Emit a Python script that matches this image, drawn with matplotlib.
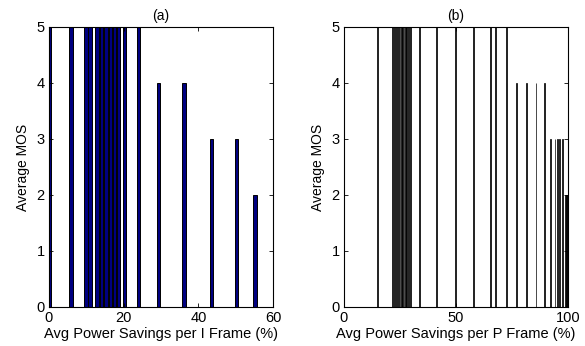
import matplotlib
matplotlib.use("Agg")
import matplotlib.pyplot as plt

plt.rcParams.update({
    "font.family": ["Liberation Sans", "DejaVu Sans"],
    "font.size": 10.5,
    "axes.linewidth": 0.8,
})

# (a) I frame savings vs MOS
i_savings = [0, 5.9, 9.9, 11.0, 12.9, 14.1, 15.3, 16.5, 17.6, 18.7, 20.2, 24.0,
             29.3, 36.2, 43.6, 50.3, 55.2]
i_mos = [5, 5, 5, 5, 5, 5, 5, 5, 5, 5, 5, 5, 4, 4, 3, 3, 2]

# (b) P frame savings vs MOS
p_savings = [0, 15.0, 21.7, 22.5, 23.5, 24.2, 25.0, 25.6, 26.2, 26.8, 27.4, 28.0,
             28.6, 29.8, 33.9, 41.4, 49.6, 57.7, 65.5, 67.7, 72.4,
             77.1, 81.6, 85.7, 89.5,
             92.3, 94.2, 95.2, 96.4, 97.6,
             98.8, 99.3, 99.8]
p_mos = [5] * 21 + [4] * 4 + [3] * 5 + [2] * 3

fig = plt.figure(figsize=(5.85, 3.46), dpi=100)
ax1 = fig.add_axes([49 / 585, 39 / 346, 224 / 585, 280 / 346])
ax2 = fig.add_axes([344 / 585, 39 / 346, 224 / 585, 280 / 346])

ax1.bar(i_savings, i_mos, width=0.9, color="#000080", edgecolor="black",
        linewidth=0.7, align="center")
ax2.bar(p_savings, p_mos, width=0.4, color="black", edgecolor="black",
        linewidth=0.5, align="center")

ax1.set_xlim(0, 60)
ax1.set_xticks([0, 20, 40, 60])
ax1.set_xlabel("Avg Power Savings per I Frame (%)", labelpad=1)
ax1.set_title("(a)", fontsize=10, pad=5)

ax2.set_xlim(0, 100)
ax2.set_xticks([0, 50, 100])
ax2.set_xlabel("Avg Power Savings per P Frame (%)", labelpad=1)
ax2.set_title("(b)", fontsize=10, pad=5)

for ax in (ax1, ax2):
    ax.set_ylim(0, 5)
    ax.set_yticks(range(6))
    ax.set_ylabel("Average MOS", fontsize=10, labelpad=5)
    ax.tick_params(direction="in", top=True, right=True, length=3, width=0.6,
                   pad=3, labelsize=10.5)

fig.savefig("out.png", dpi=100)
